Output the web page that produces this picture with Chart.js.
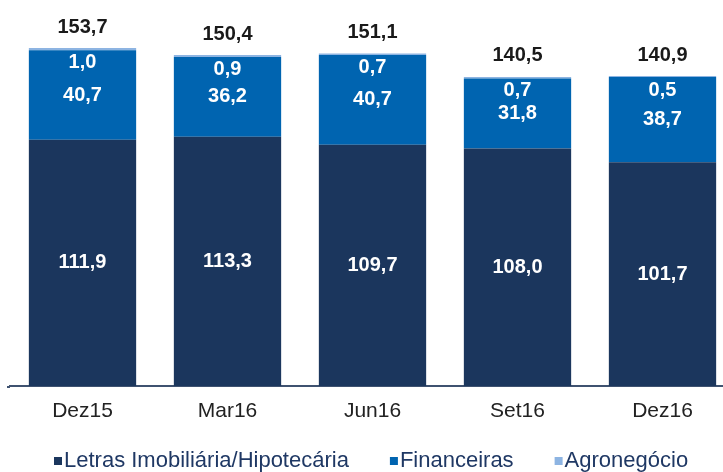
<!DOCTYPE html>
<html>
<head>
<meta charset="utf-8">
<script src="https://cdn.jsdelivr.net/npm/chart.js@4"></script>
<style>
  html, body { margin: 0; padding: 0; background: #fff; overflow: hidden; }
  #wrap { width: 740px; height: 472px; }
</style>
</head>
<body>
<div id="wrap"><canvas id="myChart"></canvas></div>
<script>
const categories = ['Dez15', 'Mar16', 'Jun16', 'Set16', 'Dez16']
const letras = [111.9, 113.3, 109.7, 108.0, 101.7]
const financeiras = [40.7, 36.2, 40.7, 31.8, 38.7]
const agronegocio = [1.0, 0.9, 0.7, 0.7, 0.5]
const totals = [153.7, 150.4, 151.1, 140.5, 140.9]
const seriesNames = ['Letras Imobiliária/Hipotecária', 'Financeiras', 'Agronegócio']

const colors = ['#1b365d', '#0064b0', '#8db4e2']
const font = "'Liberation Sans', Arial, sans-serif"

const fmt = v => v.toFixed(1).replace('.', ',')

// labels inside the stacks + totals on top
const valueLabels = {
  id: 'valueLabels',
  afterDatasetsDraw(chart) {
    const ctx = chart.ctx
    ctx.save()
    ctx.textAlign = 'center'
    ctx.textBaseline = 'middle'
    ctx.font = 'bold 20px ' + font
    chart.data.datasets.forEach((ds, i) => {
      chart.getDatasetMeta(i).data.forEach((bar, j) => {
        let y = (bar.y + bar.base) / 2
        if (i === 2) y = bar.y + 14
        ctx.fillStyle = '#ffffff'
        ctx.fillText(fmt(ds.data[j]), bar.x, y)
      })
    })
    const top = chart.getDatasetMeta(2).data
    ctx.fillStyle = '#1a1a1a'
    top.forEach((bar, j) => {
      ctx.fillText(fmt(totals[j]), bar.x, bar.y - 21)
    })
    // axis line runs a bit left of the plot area in the original
    const a = chart.chartArea
    ctx.strokeStyle = '#3f5270'
    ctx.lineWidth = 2
    ctx.beginPath()
    ctx.moveTo(7, a.bottom + 1)
    ctx.lineTo(a.left, a.bottom + 1)
    ctx.stroke()
    ctx.restore()
  }
}

// legend drawn by hand so it sits where the original one does
const bottomLegend = {
  id: 'bottomLegend',
  afterDraw(chart) {
    const ctx = chart.ctx
    ctx.save()
    ctx.font = '22px ' + font
    ctx.textBaseline = 'middle'
    let x = 54
    const y = 461
    seriesNames.forEach((name, i) => {
      ctx.fillStyle = colors[i]
      ctx.fillRect(x, y - 4, 8, 8)
      ctx.fillStyle = '#1f3864'
      ctx.fillText(name, x + 10, y)
      x += 10 + ctx.measureText(name).width + 41
    })
    ctx.restore()
  }
}

const chart1 = document.querySelector('#myChart')

let data = {
  labels: categories,
  datasets: [
    { label: seriesNames[0], data: letras, backgroundColor: colors[0] },
    { label: seriesNames[1], data: financeiras, backgroundColor: colors[1] },
    { label: seriesNames[2], data: agronegocio, backgroundColor: colors[2] }
  ]
}

let options = {
  responsive: true,
  maintainAspectRatio: false,
  animation: false,
  barPercentage: 0.74,
  categoryPercentage: 1,
  layout: { padding: { left: 10, right: 5, top: 1, bottom: 0 } },
  plugins: {
    legend: { display: false },
    tooltip: { enabled: false }
  },
  scales: {
    x: {
      stacked: true,
      grid: { display: false, drawTicks: false },
      border: { display: true, color: '#3f5270', width: 2 },
      ticks: { color: '#222222', font: { family: font, size: 21 }, padding: 13 },
      afterFit: s => { s.height = 86 }
    },
    y: {
      stacked: true,
      display: false,
      min: 0,
      max: 175
    }
  }
}

new Chart(chart1, {
  type: 'bar',
  data: data,
  options: options,
  plugins: [valueLabels, bottomLegend]
})
</script>
</body>
</html>
